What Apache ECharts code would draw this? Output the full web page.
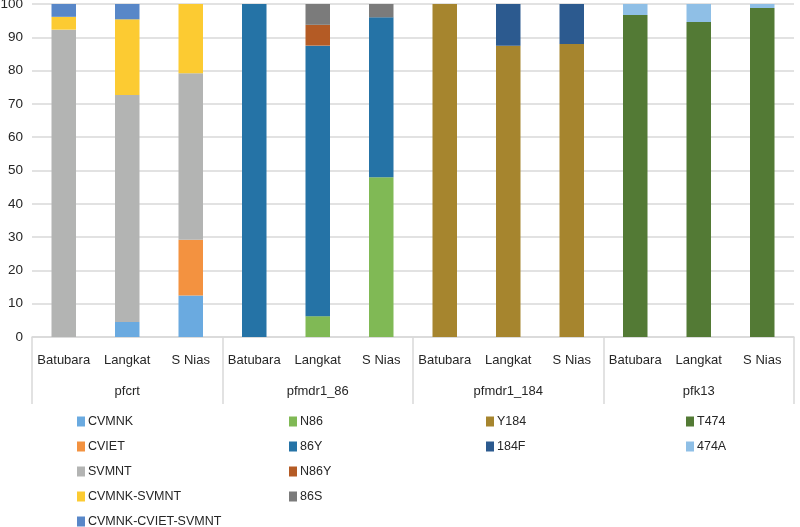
<!DOCTYPE html>
<html>
<head>
<meta charset="utf-8">
<script src="https://cdn.jsdelivr.net/npm/echarts@6/dist/echarts.min.js"></script>
<style>html,body{margin:0;padding:0;background:#fff;}#c{width:800px;height:527px;}</style>
</head>
<body>
<div id="c"></div>
<script>
var sites = ['Batubara', 'Langkat', 'S Nias'];
var genes = ['pfcrt', 'pfmdr1_86', 'pfmdr1_184', 'pfk13'];
var yTicks = [0, 10, 20, 30, 40, 50, 60, 70, 80, 90, 100];

// values per category: pfcrt x3, pfmdr1_86 x3, pfmdr1_184 x3, pfk13 x3
var CVMNK            = [0, 4.5, 12.5, null, null, null, null, null, null, null, null, null];
var CVIET            = [0, 0, 16.7, null, null, null, null, null, null, null, null, null];
var SVMNT            = [92.3, 68.2, 50, null, null, null, null, null, null, null, null, null];
var CVMNK_SVMNT      = [3.85, 22.7, 20.8, null, null, null, null, null, null, null, null, null];
var CVMNK_CVIET_SVMNT= [3.85, 4.6, 0, null, null, null, null, null, null, null, null, null];
var N86  = [null, null, null, 0, 6.25, 48, null, null, null, null, null, null];
var Y86  = [null, null, null, 100, 81.25, 48, null, null, null, null, null, null];
var N86Y = [null, null, null, 0, 6.25, 0, null, null, null, null, null, null];
var S86  = [null, null, null, 0, 6.25, 4, null, null, null, null, null, null];
var Y184 = [null, null, null, null, null, null, 100, 87.5, 88, null, null, null];
var F184 = [null, null, null, null, null, null, 0, 12.5, 12, null, null, null];
var T474 = [null, null, null, null, null, null, null, null, null, 96.7, 94.6, 98.8];
var A474 = [null, null, null, null, null, null, null, null, null, 3.3, 5.4, 1.2];

var seriesDefs = [
  ['CVMNK', CVMNK, '#6aaae0'],
  ['CVIET', CVIET, '#f39240'],
  ['SVMNT', SVMNT, '#b3b4b3'],
  ['CVMNK-SVMNT', CVMNK_SVMNT, '#fccb32'],
  ['CVMNK-CVIET-SVMNT', CVMNK_CVIET_SVMNT, '#5887c8'],
  ['N86', N86, '#80b955'],
  ['86Y', Y86, '#2573a6'],
  ['N86Y', N86Y, '#b45b25'],
  ['86S', S86, '#7b7b7b'],
  ['Y184', Y184, '#a6852e'],
  ['184F', F184, '#2c5a8f'],
  ['T474', T474, '#537a35'],
  ['474A', A474, '#8fbfe6']
];

var cats = [];
genes.forEach(function (g) { sites.forEach(function (s) { cats.push(g + '|' + s); }); });

var FONT = "'Liberation Sans', Arial, sans-serif";
var TXT = '#262626';
var GRID = '#d9d9d9';

function legend(left, names) {
  return {
    orient: 'vertical', left: left, top: 414, height: 140, padding: 0,
    itemWidth: 8, itemHeight: 10, itemGap: 10,
    icon: 'rect',
    data: names,
    textStyle: { fontFamily: FONT, fontSize: 12.5, color: TXT, lineHeight: 15, padding: [0, 0, 0, -2] }
  };
}

var chart = echarts.init(document.getElementById('c'), null, { renderer: 'canvas' });
chart.setOption({
  animation: false,
  backgroundColor: '#fff',
  grid: { left: 32, right: 6, top: 4, bottom: 190, containLabel: false, outerBoundsMode: 'none' },
  legend: [
    legend(77, ['CVMNK', 'CVIET', 'SVMNT', 'CVMNK-SVMNT', 'CVMNK-CVIET-SVMNT']),
    legend(289, ['N86', '86Y', 'N86Y', '86S']),
    legend(486, ['Y184', '184F']),
    legend(686, ['T474', '474A'])
  ],
  xAxis: [
    {
      type: 'category', data: cats, position: 'bottom',
      axisLine: { show: true, lineStyle: { color: GRID, width: 1.5 } },
      axisTick: { show: false },
      axisLabel: { fontFamily: FONT, fontSize: 13, color: TXT, margin: 17, interval: 0,
        formatter: function (v) { return v.split('|')[1]; } }
    },
    {
      type: 'category', data: genes, position: 'bottom',
      axisLine: { show: false },
      axisTick: { show: true, length: 67, alignWithLabel: false, lineStyle: { color: GRID, width: 1.5 } },
      axisLabel: { fontFamily: FONT, fontSize: 13, color: TXT, margin: 48, interval: 0 },
      splitLine: { show: false }
    }
  ],
  yAxis: {
    type: 'value', min: yTicks[0], max: yTicks[yTicks.length - 1], interval: 10,
    axisLine: { show: false }, axisTick: { show: false },
    axisLabel: { fontFamily: FONT, fontSize: 13.5, color: TXT, margin: 9 },
    splitLine: { lineStyle: { color: GRID, width: 1.5 } }
  },
  series: seriesDefs.map(function (d) {
    return {
      name: d[0], type: 'bar', stack: 'all', xAxisIndex: 0,
      data: d[1], barWidth: 24.5,
      itemStyle: { color: d[2] }
    };
  })
});
</script>
</body>
</html>
